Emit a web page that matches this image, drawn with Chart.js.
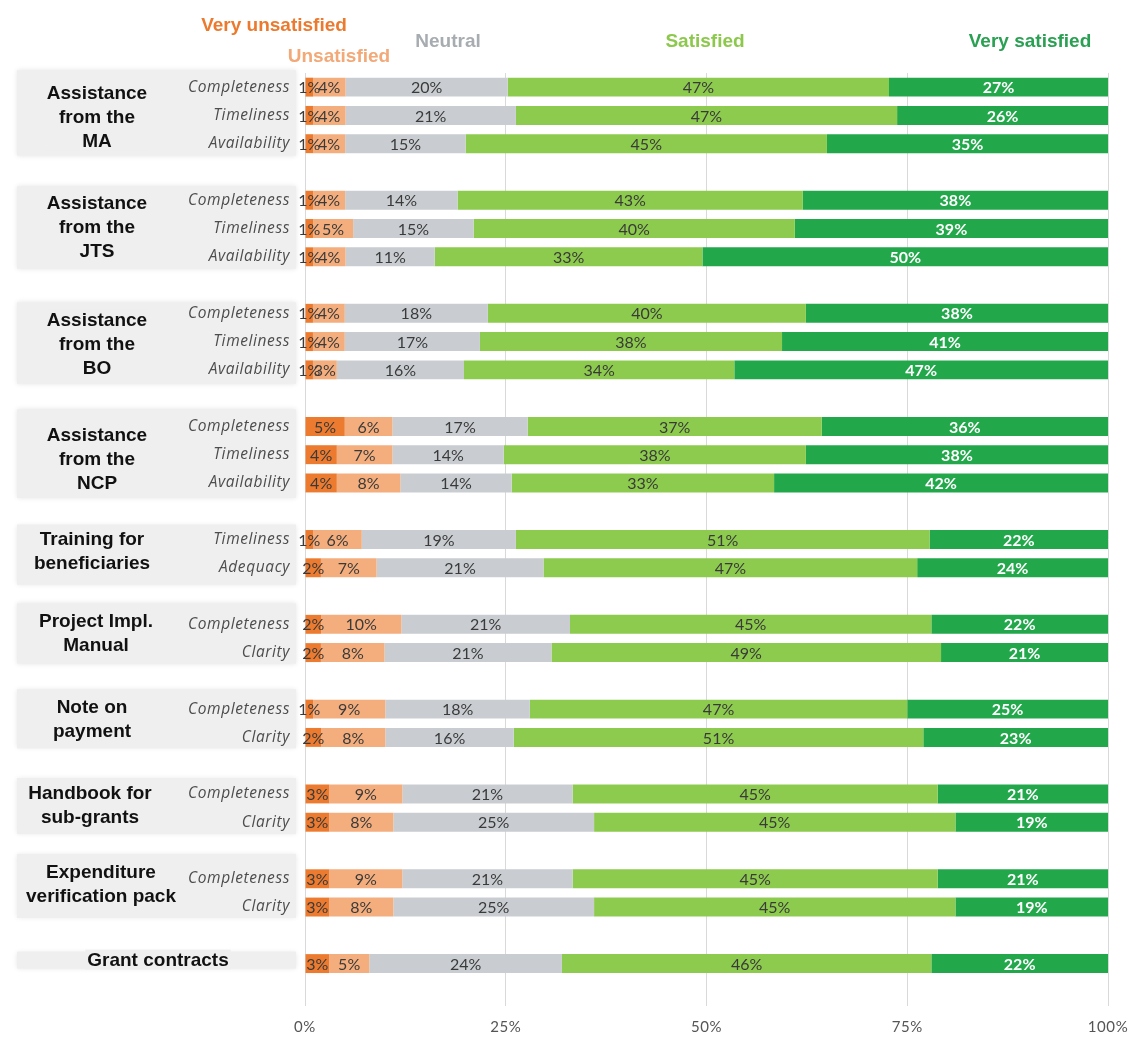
<!DOCTYPE html>
<html>
<head>
<meta charset="utf-8">
<script src="https://cdn.jsdelivr.net/npm/chart.js@4.4.1/dist/chart.umd.min.js"></script>
<style>
  html, body { margin: 0; padding: 0; background: #ffffff; }
  #wrap { width: 1130px; height: 1039px; }
</style>
</head>
<body>
<div id="wrap"><canvas id="satisfactionChart" width="1130" height="1039"></canvas></div>
<script>
// ── Row labels (blank entries are spacer rows between groups) ──
const rowLabels = [
    "Completeness", "Timeliness", "Availability", "",
    "Completeness", "Timeliness", "Availability", "",
    "Completeness", "Timeliness", "Availability", "",
    "Completeness", "Timeliness", "Availability", "",
    "Timeliness", "Adequacy", "",
    "Completeness", "Clarity", "",
    "Completeness", "Clarity", "",
    "Completeness", "Clarity", "",
    "Completeness", "Clarity", "",
    "", ""
];

// ── Answer shares per row (%) ──
const veryUnsatisfied = [1, 1, 1, null, 1, 1, 1, null, 1, 1, 1, null, 5, 4, 4, null, 1, 2, null, 2, 2, null, 1, 2, null, 3, 3, null, 3, 3, null, 3, null];
const unsatisfied     = [4, 4, 4, null, 4, 5, 4, null, 4, 4, 3, null, 6, 7, 8, null, 6, 7, null, 10, 8, null, 9, 8, null, 9, 8, null, 9, 8, null, 5, null];
const neutral         = [20, 21, 15, null, 14, 15, 11, null, 18, 17, 16, null, 17, 14, 14, null, 19, 21, null, 21, 21, null, 18, 16, null, 21, 25, null, 21, 25, null, 24, null];
const satisfied       = [47, 47, 45, null, 43, 40, 33, null, 40, 38, 34, null, 37, 38, 33, null, 51, 47, null, 45, 49, null, 47, 51, null, 45, 45, null, 45, 45, null, 46, null];
const verySatisfied   = [27, 26, 35, null, 38, 39, 50, null, 38, 41, 47, null, 36, 38, 42, null, 22, 24, null, 22, 21, null, 25, 23, null, 21, 19, null, 21, 19, null, 22, null];

const seriesNames  = ["Very unsatisfied", "Unsatisfied", "Neutral", "Satisfied", "Very satisfied"];
const seriesValues = [veryUnsatisfied, unsatisfied, neutral, satisfied, verySatisfied];

// ── Group headings: which rows each one covers ──
const groups = [
    { lines: ["Assistance", "from the", "MA"],       first: 0,  last: 2 },
    { lines: ["Assistance", "from the", "JTS"],      first: 4,  last: 6 },
    { lines: ["Assistance", "from the", "BO"],       first: 8,  last: 10 },
    { lines: ["Assistance", "from the", "NCP"],      first: 12, last: 14 },
    { lines: ["Training for", "beneficiaries"],      first: 16, last: 17 },
    { lines: ["Project Impl.", "Manual"],            first: 19, last: 20 },
    { lines: ["Note on", "payment"],                 first: 22, last: 23 },
    { lines: ["Handbook for", "sub-grants"],         first: 25, last: 26 },
    { lines: ["Expenditure", "verification pack"],   first: 28, last: 29 },
    { lines: ["Grant contracts"],                    first: 31, last: 31 },
];

const xTicks = [0, 25, 50, 75, 100];

// ── Styling ──
const COLORS = ["#EC7B30", "#F4AE7D", "#C9CDD1", "#8DCB4E", "#22A84B"];
const HEADER_COLORS = ["#EB7A2E", "#F2A877", "#A7ACB0", "#8CC84B", "#2AA052"];
// header text anchors (x centre, y centre)
const HEADER_POS = [[274, 26], [339, 57], [448, 42], [705, 42], [1030, 42]];
// group heading layout: x centre, vertical nudge, box padding above / below
const GROUP_LAYOUT = [
    { x: 97,  dy: 1,  padTop: 17, padBottom: 12 },
    { x: 97,  dy: -2, padTop: 14, padBottom: 12 },
    { x: 97,  dy: 2,  padTop: 11, padBottom: 14 },
    { x: 97,  dy: 4,  padTop: 17, padBottom: 15 },
    { x: 92,  dy: -3, padTop: 15, padBottom: 17 },
    { x: 96,  dy: -6, padTop: 21, padBottom: 11 },
    { x: 92,  dy: -5, padTop: 20, padBottom: 11 },
    { x: 90,  dy: -3, padTop: 16, padBottom: 12 },
    { x: 101, dy: -9, padTop: 25, padBottom: 11 },
    { x: 158, dy: -4, padTop: 12, padBottom: 5 },
];
const BOX_LEFT = 17, BOX_RIGHT = 296, BOX_COLOR = "#EFEFEF";
const GROUP_FONT = "bold 19px 'Liberation Sans'";
const GROUP_LINE_H = 24;

// every row is shown as share of its own total (100% stacked)
const rowTotals = rowLabels.map((_, i) =>
    seriesValues.reduce((s, arr) => s + (arr[i] || 0), 0));
const normalised = seriesValues.map(arr =>
    arr.map((v, i) => (v == null ? null : (v / rowTotals[i]) * 100)));

// ── Plugin: grey heading boxes behind the y axis ──
const groupBoxes = {
    id: "groupBoxes",
    beforeDraw(chart) {
        const { ctx } = chart;
        const y = chart.scales.y;
        ctx.save();
        ctx.fillStyle = BOX_COLOR;
        ctx.shadowColor = "rgba(0,0,0,0.10)";
        ctx.shadowBlur = 5;
        groups.forEach((g, gi) => {
            const L = GROUP_LAYOUT[gi];
            const top = y.getPixelForValue(g.first) - L.padTop;
            const bottom = y.getPixelForValue(g.last) + L.padBottom;
            ctx.fillRect(BOX_LEFT, top, BOX_RIGHT - BOX_LEFT, bottom - top);
        });
        ctx.restore();
        // axis captions are set with a little tracking
        ctx.letterSpacing = "0.6px";
    },
    beforeDatasetsDraw(chart) {
        chart.ctx.letterSpacing = "0px";
    },
};

// ── Plugin: value labels inside each segment ──
const segmentLabels = {
    id: "segmentLabels",
    afterDatasetsDraw(chart) {
        const { ctx } = chart;
        ctx.save();
        ctx.textAlign = "center";
        ctx.textBaseline = "middle";
        chart.data.datasets.forEach((ds, di) => {
            const meta = chart.getDatasetMeta(di);
            meta.data.forEach((bar, i) => {
                const raw = seriesValues[di][i];
                if (raw == null) return;
                const cx = (bar.x + bar.base) / 2;
                if (di === 4) {
                    ctx.font = "bold 16px Lato";
                    ctx.fillStyle = "#ffffff";
                } else {
                    ctx.font = "16px Lato";
                    ctx.fillStyle = "#3a3a3a";
                }
                ctx.fillText(raw + "%", cx, bar.y + 1);
            });
        });
        ctx.restore();
    },
};

// ── Plugin: series headers on top + group headings on the left ──
const headings = {
    id: "headings",
    afterDraw(chart) {
        const { ctx } = chart;
        const y = chart.scales.y;
        ctx.save();
        ctx.textAlign = "center";
        ctx.textBaseline = "middle";

        ctx.font = "bold 19px 'Liberation Sans'";
        seriesNames.forEach((name, i) => {
            ctx.fillStyle = HEADER_COLORS[i];
            ctx.fillText(name, HEADER_POS[i][0], HEADER_POS[i][1]);
        });

        ctx.font = GROUP_FONT;
        groups.forEach((g, gi) => {
            const L = GROUP_LAYOUT[gi];
            const mid = (y.getPixelForValue(g.first) + y.getPixelForValue(g.last)) / 2 + L.dy;
            const startY = mid - ((g.lines.length - 1) * GROUP_LINE_H) / 2;
            const w = Math.max(...g.lines.map(t => ctx.measureText(t).width));
            // text frame sits over the row captions like a label box
            ctx.fillStyle = BOX_COLOR;
            ctx.fillRect(L.x - w / 2 - 2, startY - 10, w + 4, (g.lines.length - 1) * GROUP_LINE_H + 20);
            ctx.fillStyle = "#111111";
            g.lines.forEach((t, li) => ctx.fillText(t, L.x, startY + li * GROUP_LINE_H + 1));
        });
        ctx.restore();
    },
};

new Chart(document.getElementById("satisfactionChart"), {
    type: "bar",
    data: {
        labels: rowLabels,
        datasets: seriesNames.map((name, i) => ({
            label: name,
            data: normalised[i],
            backgroundColor: COLORS[i],
            borderWidth: 0,
            categoryPercentage: 1,
            barPercentage: 0.67,
        })),
    },
    options: {
        indexAxis: "y",
        responsive: false,
        animation: false,
        layout: { padding: { top: 73, right: 22, bottom: 3, left: 0 } },
        plugins: {
            legend: { display: false },
            tooltip: { enabled: false },
        },
        scales: {
            x: {
                stacked: true,
                min: 0,
                max: 100,
                afterBuildTicks: scale => { scale.ticks = xTicks.map(v => ({ value: v })); },
                afterFit: scale => {
                    scale.height = 30;
                    scale.paddingLeft = 0;
                    scale.paddingRight = 0;
                },
                ticks: {
                    callback: v => v + "%",
                    color: "#555555",
                    font: { family: "Lato", size: 15 },
                    padding: 12,
                    maxRotation: 0,
                },
                grid: { color: "#D9D9D9", drawTicks: false, tickLength: 0 },
                border: { display: false },
            },
            y: {
                stacked: true,
                afterFit: scale => {
                    scale.width = 305;
                    scale.paddingTop = 0;
                    scale.paddingBottom = 0;
                },
                ticks: {
                    color: "#4d4d4d",
                    font: { family: "Open Sans", size: 15.5, style: "italic" },
                    padding: 15,
                    autoSkip: false,
                },
                grid: { display: false, drawTicks: false },
                border: { display: false },
            },
        },
    },
    plugins: [groupBoxes, segmentLabels, headings],
});
</script>
</body>
</html>
